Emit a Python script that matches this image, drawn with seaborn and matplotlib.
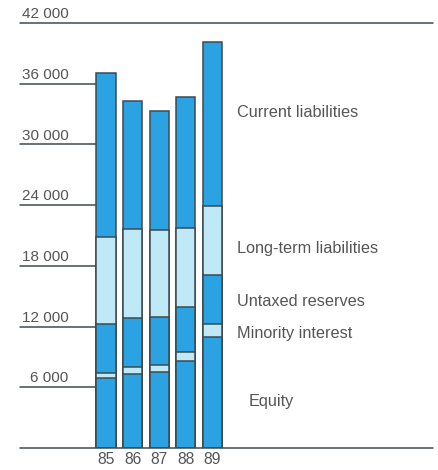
import numpy as np
import pandas as pd
import matplotlib
matplotlib.use("Agg")
import matplotlib.pyplot as plt
import seaborn as sns

# Balance-sheet composition by year (SEK m)
years = ["85", "86", "87", "88", "89"]
equity = [6900, 7300, 7500, 8600, 11000]
minority_interest = [500, 700, 700, 900, 1250]
untaxed_reserves = [4850, 4850, 4750, 4450, 4850]
long_term_liabilities = [8600, 8800, 8600, 7800, 6800]
current_liabilities = [16250, 12650, 11750, 12950, 16200]

segment_names = ["Equity", "Minority interest", "Untaxed reserves",
                 "Long-term liabilities", "Current liabilities"]
y_ticks = [6000, 12000, 18000, 24000, 30000, 36000, 42000]
y_tick_labels = ["6 000", "12 000", "18 000", "24 000", "30 000", "36 000", "42 000"]

DARK = "#2ba2e2"
LIGHT = "#c0e9f8"
EDGE = "#3d4a52"
TEXT = "#555555"
segment_colors = [DARK, LIGHT, DARK, LIGHT, DARK]

sns.set_style("white")
plt.rcParams["font.family"] = ["Liberation Sans", "DejaVu Sans"]

df = pd.DataFrame({
    "year": years,
    "Equity": equity,
    "Minority interest": minority_interest,
    "Untaxed reserves": untaxed_reserves,
    "Long-term liabilities": long_term_liabilities,
    "Current liabilities": current_liabilities,
})
cum = df[segment_names].cumsum(axis=1)

W, H = 438, 470
fig = plt.figure(figsize=(W / 100, H / 100), dpi=100)
ax = fig.add_axes([20 / W, (H - 448) / H, 415 / W, 425 / H])

# Stack by overlaying cumulative totals, tallest first
for name, color in reversed(list(zip(segment_names, segment_colors))):
    sns.barplot(x=df["year"], y=cum[name], color=color, width=0.72,
                edgecolor=EDGE, linewidth=1.1, saturation=1, ax=ax, zorder=3)

ax.set_xlim(-3.23, 12.36)
ax.set_ylim(0, 42000)
ax.set_xlabel("")
ax.set_ylabel("")
ax.set_yticks([])
sns.despine(ax=ax, left=True, bottom=True)

# Rule lines: short ones up to the first bar, full-width at top and baseline
bar_left = -0.36
for v in y_ticks[:-1]:
    ax.plot([-3.23, bar_left], [v, v], color=EDGE, lw=1.1, zorder=2, clip_on=False)
for v in [0, 42000]:
    ax.plot([-3.23, 12.3], [v, v], color=EDGE, lw=1.1, zorder=4, clip_on=False)

for v, lab in zip(y_ticks, y_tick_labels):
    ax.text(-1.4, v + 880, lab, ha="right", va="center", fontsize=11,
            color=TEXT, clip_on=False)

ax.tick_params(axis="x", length=0, pad=3, labelsize=11.3, labelcolor=TEXT)

label_pos = {
    "Current liabilities": (4.93, 33200),
    "Long-term liabilities": (4.93, 19760),
    "Untaxed reserves": (4.93, 14430),
    "Minority interest": (4.93, 11360),
    "Equity": (5.34, 4550),
}
for name, (x, y) in label_pos.items():
    ax.text(x, y, name, ha="left", va="center", fontsize=11.7, color=TEXT)

fig.savefig("out.png", dpi=100, facecolor="white")
